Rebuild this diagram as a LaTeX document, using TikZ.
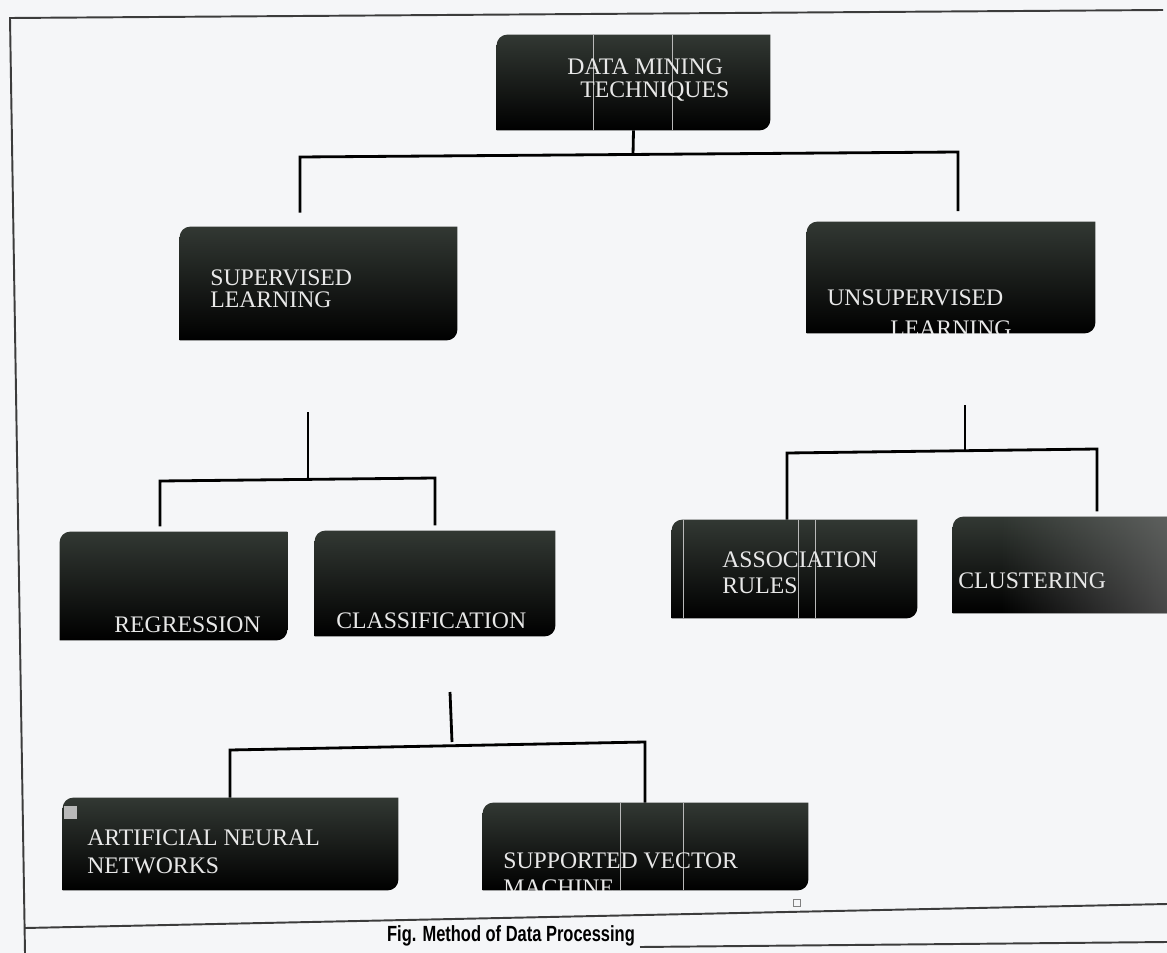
\documentclass[tikz,border=0pt]{standalone}
\usepackage{fontspec}
\setmainfont{Liberation Serif}
\setsansfont{Liberation Sans}
\usepackage{graphicx}
\usetikzlibrary{fadings}
\definecolor{paper}{RGB}{245,246,248}
\definecolor{blktop}{RGB}{50,56,51}
\definecolor{lbltxt}{RGB}{232,232,232}
\definecolor{frameln}{RGB}{60,60,60}
\tikzset{
  blkn/.style={rectangle, inner sep=0pt, draw=none},
  lbl/.style={anchor=base west, inner sep=0pt, text=lbltxt, font=\fontsize{13.5}{16}\selectfont},
  link/.style={line width=1.6pt, black},
  frm/.style={line width=1.1pt, frameln},
  streak/.style={line width=0.5pt, gray!55}
}
\newcommand{\blk}[5]{%
  \node[blkn, minimum width={(#4-#2)*0.02cm}, minimum height={(#5-#3)*0.02cm}] (#1) at ({(#2+#4)/2},{(#3+#5)/2}) {};
  \shade[top color=blktop, bottom color=black] (#1.south west) -- ([yshift=-6pt]#1.north west)
    arc[start angle=180, end angle=90, radius=6pt] -- (#1.north east) -- ([yshift=6pt]#1.south east)
    arc[start angle=0, end angle=-90, radius=6pt] -- cycle;}
\newcommand{\streaks}[2]{\foreach \sx in {#2} \draw[streak] (#1.north -| \sx,0) -- (#1.south -| \sx,0);}

\begin{document}
\begin{tikzpicture}[x=0.02cm, y=-0.02cm]
  \fill[paper] (0,0) rectangle (1167,953);
  \useasboundingbox (0,0) rectangle (1167,953);
  \draw[frm] (1163,10) -- (10,18) -- (25,953);
  \draw[frm] (25,928) -- (1167,904);
  \draw[frm] (640,947) -- (1167,942);

  \blk{dmt}{497}{35}{770}{130}
  \blk{sl}{180}{227}{457}{340}
  \blk{ul}{807}{222}{1095}{333}
  \blk{reg}{60}{532}{287}{640}
  \blk{cls}{315}{531}{555}{636}
  \blk{asr}{672}{520}{917}{618}
  \blk{clu}{953}{517}{1180}{613}
  \blk{ann}{63}{798}{398}{890}
  \blk{svm}{483}{803}{808}{890}
  \fill[gray, path fading=west, fill opacity=0.6] (1000,517) rectangle (1180,613);
  \streaks{dmt}{593,672} \streaks{asr}{683,798,815} \streaks{svm}{620,683}

  \node[lbl] (dmt1) at (567,75) {DATA MINING}; \node[lbl] (dmt2) at (580,98) {TECHNIQUES};
  \node[lbl] (sl1) at (210,285) {SUPERVISED}; \node[lbl] (sl2) at (210,307) {LEARNING};
  \node[lbl] (ul1) at (827,305) {UNSUPERVISED};
  \begin{scope}
    \clip (ul.south west) rectangle (ul.north east);
    \node[lbl] (ul2) at (890,336) {LEARNING};
  \end{scope}
  \node[lbl] (reg1) at (114,632) {REGRESSION};
  \node[lbl] (cls1) at (336,628) {CLASSIFICATION};
  \node[lbl] (asr1) at (722,567) {ASSOCIATION}; \node[lbl] (asr2) at (722,593) {RULES};
  \node[lbl] (clu1) at (958,588) {CLUSTERING};
  \node[lbl] (ann1) at (87,845) {ARTIFICIAL NEURAL}; \node[lbl] (ann2) at (87,873) {NETWORKS};
  \node[lbl] (svm1) at (503,868) {SUPPORTED VECTOR};
  \begin{scope}
    \clip (svm.south west) rectangle (svm.north east);
    \node[lbl] (svm2) at (503,895) {MACHINE};
  \end{scope}

  \coordinate (j0) at (633,155); \coordinate (t1) at (300,157); \coordinate (t2) at (958,152);
  \draw[link] (dmt.south) -- (j0);
  \draw[link] ([yshift=8pt]sl.north -| t1) -- (t1) -- (t2) -- ([yshift=6pt]ul.north -| t2);

  \coordinate (s0) at (308,412); \coordinate (s1) at (308,480);
  \coordinate (s2) at (160,481); \coordinate (s3) at (435,478);
  \draw[link] (s0) -- (s1);
  \draw[link] ([yshift=3pt]reg.north -| s2) -- (s2) -- (s3) -- ([yshift=3pt]cls.north -| s3);

  \coordinate (u0) at (965,405); \coordinate (u1) at (965,450);
  \coordinate (u2) at (787,453); \coordinate (u3) at (1097,449);
  \draw[link] (u0) -- (u1);
  \draw[link] (asr.north -| u2) -- (u2) -- (u3) -- ([yshift=3pt]clu.north -| u3);

  \coordinate (c0) at (450,692); \coordinate (c1) at (452,742);
  \coordinate (c2) at (230,750); \coordinate (c3) at (645,742);
  \draw[link] (c0) -- (c1);
  \draw[link] (ann.north -| c2) -- (c2) -- (c3) -- (svm.north -| c3);

  \node[draw=gray, line width=0.6pt, minimum size=7*0.02cm, inner sep=0pt] (hnd) at (797,903) {};
  \node[fill=gray!55, minimum size=13*0.02cm, inner sep=0pt] (mv) at (70,812) {};
  \node[font=\sffamily\bfseries\fontsize{12.5}{15}\selectfont, inner sep=0pt] (cap) at (511,936)
    {\scalebox{0.75}[1]{Fig. Method of Data Processing}};
\end{tikzpicture}
\end{document}
